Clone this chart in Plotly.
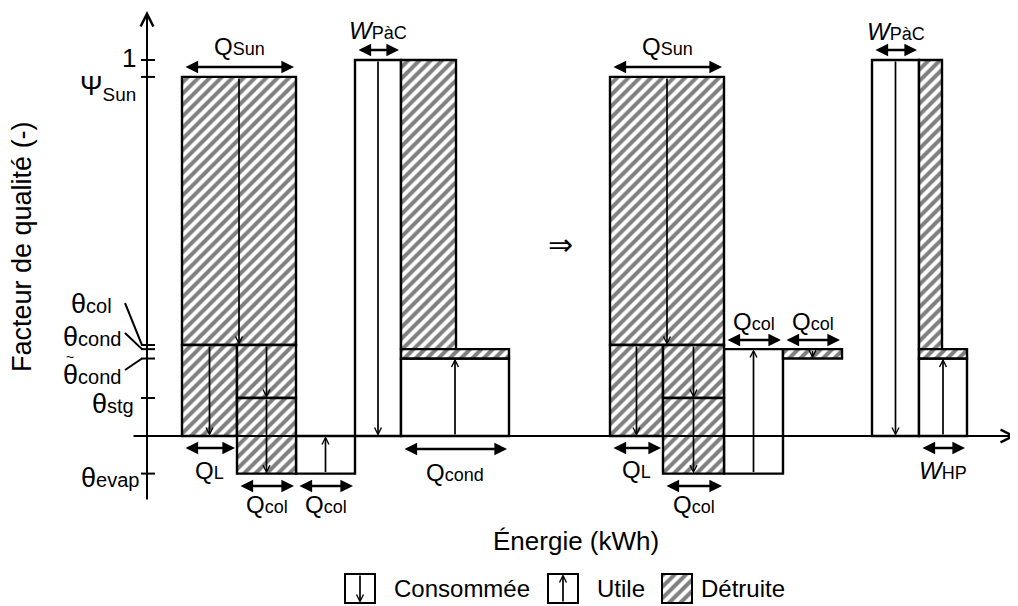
import plotly.graph_objects as go

# ---------------- DATA ----------------
# Quality-factor levels (y axis, dimensionless)
level_values = [1.0, 0.955, 0.242, 0.231, 0.206, 0.101, -0.100]
ONE, PSI_SUN, TH_COL, TH_COND, TH_COND_T, TH_STG, TH_EVAP = level_values

# Energy blocks: start / width along the energy axis (kWh), quality bounds
blk_start = [35, 35, 90, 90, 149, 208, 254, 254, 254,
             463, 463, 516, 516, 577, 636, 725, 772, 772, 772]
blk_width = [114, 55, 59, 59, 59, 46, 55, 108, 108,
             114, 53, 61, 61, 59, 59, 47, 23, 48, 48]
blk_low = [TH_COL, 0, TH_STG, TH_EVAP, TH_EVAP, 0, TH_COND, TH_COND_T, 0,
           TH_COL, 0, TH_STG, TH_EVAP, TH_EVAP, TH_COND_T, 0, TH_COND, TH_COND_T, 0]
blk_high = [PSI_SUN, TH_COL, TH_COL, TH_STG, 0, ONE, ONE, TH_COND, TH_COND_T,
            PSI_SUN, TH_COL, TH_COL, TH_STG, TH_COND, TH_COND, ONE, ONE, TH_COND, TH_COND_T]
blk_destroyed = [True, True, True, True, False, False, True, True, False,
                 True, True, True, True, False, True, False, True, True, False]
blk_arrow = ["down", "down", "down", "down", "up", "down", "", "", "up",
             "down", "down", "down", "down", "up", "down", "down", "", "", "up"]

# Dimension arrows (energy spans) and their labels: (main symbol, subscript)
dim_start = [35, 208, 35, 90, 149, 254, 463, 725, 463, 516, 577, 636, 772]
dim_end = [149, 254, 90, 149, 208, 362, 577, 772, 516, 577, 636, 695, 820]
dim_symbol = ["Q", "W", "Q", "Q", "Q", "Q", "Q", "W", "Q", "Q", "Q", "Q", "W"]
dim_sub = ["Sun", "PàC", "L", "col", "col", "cond", "Sun", "PàC", "L", "col", "col", "col", "HP"]

# y-axis tick labels
tick_symbol = ["1", "Ψ", "θ", "θ", "θ", "θ", "θ"]
tick_sub = ["", "Sun", "col", "cond", "cond", "stg", "evap"]
tick_accent = ["", "", "", "", "~", "", ""]

legend_labels = ["Consommée", "Utile", "Détruite"]
x_title = "Énergie (kWh)"
y_title = "Facteur de qualité (-)"

# ---------------- LAYOUT HELPERS ----------------
PAGE_OFF = 8                      # html body margin
W_PX, H_PX = 1018 - PAGE_OFF, 606 - PAGE_OFF
X0_PX, Y0_PX, Y_SCALE = 147, 436, 376.0
def dx(px):
    return px - X0_PX
def dy(py):
    return (Y0_PX - py) / Y_SCALE

FONT = "Liberation Sans, Arial, sans-serif"
def lab(sym, sub, size_sub, italic=False, lowered=False):
    s = f"<i>{sym}</i>" if italic else sym
    if not sub:
        return s
    if lowered:
        return s + f"<sub>{sub}</sub>"
    return s + f"<span style='font-size:{size_sub}px'>{sub}</span>"

dim_y = [dy(67), dy(50), dy(448), dy(486), dy(486), dy(449), dy(67), dy(50),
         dy(448), dy(486), dy(340), dy(340), dy(448)]
dim_lab_py = [46, 30, 470, 504, 504, 472, 46, 31, 469, 504, 321, 321, 470]

fig = go.Figure()

hatch = dict(shape="/", fgcolor="black", bgcolor="white", size=8, solidity=0.5)

for destroyed in (False, True):
    idx = [i for i in range(len(blk_start)) if blk_destroyed[i] == destroyed]
    marker = dict(color="white", line=dict(color="black", width=2.4))
    if destroyed:
        marker["pattern"] = hatch
    fig.add_trace(go.Bar(
        x=[blk_start[i] + blk_width[i] / 2 for i in idx],
        width=[blk_width[i] for i in idx],
        base=[blk_low[i] for i in idx],
        y=[blk_high[i] - blk_low[i] for i in idx],
        marker=marker, showlegend=False, hoverinfo="skip"))

annotations = []
shapes = []

def arrow(x, y, ax, ay, head=5, size=0.8, width=1.7, both=False):
    d = dict(x=x, y=y, ax=ax, ay=ay, xref="x", yref="y", axref="x", ayref="y",
             text="", showarrow=True, arrowhead=head, arrowsize=size, arrowwidth=width,
             arrowcolor="black", standoff=0, startstandoff=0)
    if both:
        d.update(arrowside="end+start", startarrowhead=head, startarrowsize=size)
    return d

# arrows inside blocks
for i in range(len(blk_start)):
    if not blk_arrow[i]:
        continue
    xc = blk_start[i] + blk_width[i] / 2
    if blk_arrow[i] == "down":
        annotations.append(arrow(xc, blk_low[i], xc, blk_high[i]))
    else:
        annotations.append(arrow(xc, blk_high[i], xc, blk_low[i]))

# dimension arrows with labels
for i in range(len(dim_start)):
    annotations.append(arrow(dim_end[i] - 2, dim_y[i], dim_start[i] + 2, dim_y[i],
                             head=2, size=1.05, width=2.4, both=True))
    annotations.append(dict(x=(dim_start[i] + dim_end[i]) / 2, y=dy(dim_lab_py[i]),
                            xref="x", yref="y", showarrow=False, yanchor="middle",
                            text=lab(dim_symbol[i], dim_sub[i], 18,
                                     italic=(dim_symbol[i] == "W")),
                            font=dict(family=FONT, size=24, color="black")))

# axes (arrows)
annotations.append(arrow(0, dy(11), 0, dy(501), head=5, size=1.25, width=2))
annotations.append(arrow(dx(1016), 0, dx(132), 0, head=5, size=1.25, width=2))

# ticks on y axis
for v in level_values:
    shapes.append(dict(type="line", xref="x", yref="y", x0=dx(141), x1=dx(155), y0=v, y1=v,
                       line=dict(color="black", width=2)))

# tick labels (with leader lines for the crowded ones)
lab_px = [(138, 58), (138, 88), (114, 304), (123, 337), (123, 375), (136, 404), (141, 478)]
for k, (lx, ly) in enumerate(lab_px):
    txt = lab(tick_symbol[k], tick_sub[k], 20, lowered=(k == 1))
    annotations.append(dict(x=dx(lx), y=dy(ly), xref="x", yref="y", text=txt, showarrow=False,
                            xanchor="right", yanchor="middle",
                            font=dict(family=FONT, size=27 if k else 26, color="black")))
    if tick_accent[k]:
        # accent drawn above the theta, with a tight box
        annotations.append(dict(x=dx(70), y=dy(357), xref="x", yref="y", text=tick_accent[k],
                                showarrow=False, height=8, valign="middle",
                                font=dict(family=FONT, size=14, color="black")))
leaders = [((125, 303), TH_COL), ((125, 333), TH_COND), ((125, 370), TH_COND_T)]
for (lx, ly), v in leaders:
    shapes.append(dict(type="line", xref="x", yref="y", x0=dx(lx), y0=dy(ly), x1=dx(142), y1=v,
                       line=dict(color="black", width=2)))

# implication sign between the two diagrams
annotations.append(dict(x=dx(560), y=dy(244), xref="x", yref="y", text="⇒", showarrow=False,
                        font=dict(family="DejaVu Sans", size=30, color="black")))

# axis titles
annotations.append(dict(x=dx(576), y=dy(541), xref="x", yref="y", text=x_title, showarrow=False,
                        font=dict(family=FONT, size=26, color="black")))
annotations.append(dict(x=dx(22), y=dy(247), xref="x", yref="y", text=y_title, showarrow=False,
                        textangle=-90, font=dict(family=FONT, size=27, color="black")))

# legend (drawn manually)
box_left = [345, 548, 662]
text_left = [392, 595, 699]
BOX_TOP, BOX_BOT = 574, 603
for k in range(3):
    if k < 2:
        shapes.append(dict(type="rect", xref="x", yref="y", x0=dx(box_left[k]),
                           x1=dx(box_left[k] + 30), y0=dy(BOX_BOT), y1=dy(BOX_TOP),
                           line=dict(color="black", width=2), fillcolor="white"))
        xc = dx(box_left[k] + 15)
        if k == 0:
            annotations.append(arrow(xc, dy(BOX_BOT), xc, dy(BOX_TOP)))
        else:
            annotations.append(arrow(xc, dy(BOX_TOP), xc, dy(BOX_BOT)))
    annotations.append(dict(x=dx(text_left[k]), y=dy((BOX_TOP + BOX_BOT) / 2), xref="x", yref="y",
                            text=legend_labels[k], showarrow=False, xanchor="left",
                            font=dict(family=FONT, size=24, color="black")))
fig.add_trace(go.Bar(x=[dx(box_left[2] + 15)], width=[30], base=[dy(BOX_BOT)],
                     y=[dy(BOX_TOP) - dy(BOX_BOT)],
                     marker=dict(color="white", line=dict(color="black", width=2), pattern=hatch),
                     showlegend=False, hoverinfo="skip"))

fig.update_layout(
    width=W_PX, height=H_PX, margin=dict(l=0, r=0, t=0, b=0),
    paper_bgcolor="white", plot_bgcolor="white", barmode="overlay",
    xaxis=dict(range=[dx(PAGE_OFF), dx(1018)], visible=False, fixedrange=True),
    yaxis=dict(range=[dy(606), dy(PAGE_OFF)], visible=False, fixedrange=True),
    annotations=annotations, shapes=shapes, showlegend=False,
)

fig.write_html("out.html")
